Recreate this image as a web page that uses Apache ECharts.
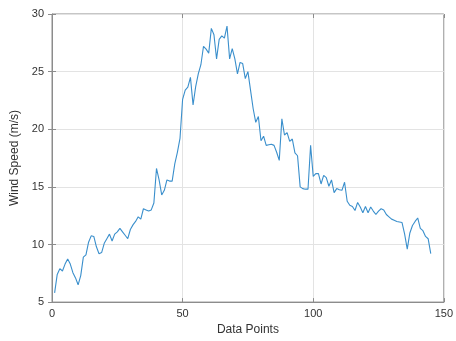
<!DOCTYPE html>
<html>
<head>
<meta charset="utf-8">
<script src="https://cdn.jsdelivr.net/npm/echarts@6/dist/echarts.min.js"></script>
<style>html,body{margin:0;padding:0;background:#fff}#c{width:456px;height:341px}</style>
</head>
<body>
<div id="c"></div>
<script>
var xTicks = [0, 50, 100, 150];
var yTicks = [5, 10, 15, 20, 25, 30];
var windSpeed = [
 5.8, 7.4, 7.9, 7.7, 8.3, 8.75, 8.3, 7.55, 7.1, 6.5,
 7.3, 8.9, 9.1, 10.2, 10.75, 10.7, 9.8, 9.2, 9.3, 10.1,
 10.5, 10.9, 10.3, 10.9, 11.1, 11.4, 11.1, 10.8, 10.5, 11.3,
 11.7, 12.0, 12.4, 12.2, 13.1, 13.0, 12.9, 13.0, 13.6, 16.6,
 15.6, 14.3, 14.7, 15.6, 15.5, 15.5, 17.0, 18.0, 19.2, 22.6,
 23.4, 23.65, 24.5, 22.1, 23.7, 24.8, 25.6, 27.2, 26.95, 26.6,
 28.75, 28.2, 26.1, 27.8, 28.1, 27.9, 28.95, 26.1, 27.0, 26.1,
 24.8, 25.8, 25.7, 24.4, 25.0, 23.4, 21.8, 20.6, 21.1, 19.0,
 19.4, 18.6, 18.65, 18.7, 18.6, 18.0, 17.3, 20.9, 19.5, 19.7,
 18.95, 19.15, 17.95, 17.7, 15.0, 14.85, 14.8, 14.8, 18.6, 15.9,
 16.15, 16.15, 15.25, 16.0, 15.8, 15.05, 15.6, 14.5, 14.85, 14.75,
 14.7, 15.4, 13.75, 13.4, 13.3, 12.95, 13.65, 13.25, 12.75, 13.3,
 12.75, 13.25, 12.9, 12.6, 12.9, 13.1, 13.0, 12.6, 12.4, 12.2,
 12.1, 12.0, 11.95, 11.9, 10.9, 9.6, 11.0, 11.65, 12.0, 12.3,
 11.4, 11.2, 10.7, 10.5, 9.2
];
var xStart = 1;
var points = windSpeed.map(function (v, i) { return [xStart + i, v]; });

var chart = echarts.init(document.getElementById('c'));
var font = 'Liberation Sans, Arial, sans-serif';
var lab = { color: '#333', fontSize: 11, fontFamily: font };
chart.setOption({
  animation: false,
  grid: { left: 52, right: 9, top: 14, bottom: 38, show: true, borderColor: '#8c8c8c', borderWidth: 1 },
  xAxis: [{
    type: 'value', min: xTicks[0], max: xTicks[xTicks.length - 1], interval: 50,
    name: 'Data Points', nameLocation: 'middle', nameGap: 20,
    nameTextStyle: { color: '#333', fontSize: 12, fontFamily: font },
    axisLine: { show: true, lineStyle: { color: '#8c8c8c' } },
    axisTick: { show: true, inside: true, length: 4, lineStyle: { color: '#8c8c8c' } },
    axisLabel: Object.assign({ margin: 6 }, lab),
    splitLine: { show: true, lineStyle: { color: '#e3e3e3', width: 1 } }
  }, {
    type: 'value', position: 'top', min: 0, max: 150, interval: 50,
    axisLine: { show: false }, axisLabel: { show: false }, splitLine: { show: false },
    axisTick: { show: true, inside: true, length: 4, lineStyle: { color: '#8c8c8c' } }
  }],
  yAxis: [{
    type: 'value', min: yTicks[0], max: yTicks[yTicks.length - 1], interval: 5,
    name: 'Wind Speed (m/s)', nameLocation: 'middle', nameGap: 28,
    nameTextStyle: { color: '#333', fontSize: 12, fontFamily: font },
    axisLine: { show: true, lineStyle: { color: '#8c8c8c' } },
    axisTick: { show: true, inside: true, length: 4, lineStyle: { color: '#8c8c8c' } },
    axisLabel: Object.assign({ margin: 8 }, lab),
    splitLine: { show: true, lineStyle: { color: '#e3e3e3', width: 1 } }
  }, {
    type: 'value', position: 'right', min: 5, max: 30, interval: 5,
    axisLine: { show: false }, axisLabel: { show: false }, splitLine: { show: false },
    axisTick: { show: true, inside: true, length: 4, lineStyle: { color: '#8c8c8c' } }
  }],
  series: [{
    type: 'line', data: points, showSymbol: false, symbol: 'none',
    lineStyle: { color: '#3a8fcc', width: 1.1 }
  }]
});
</script>
</body>
</html>
